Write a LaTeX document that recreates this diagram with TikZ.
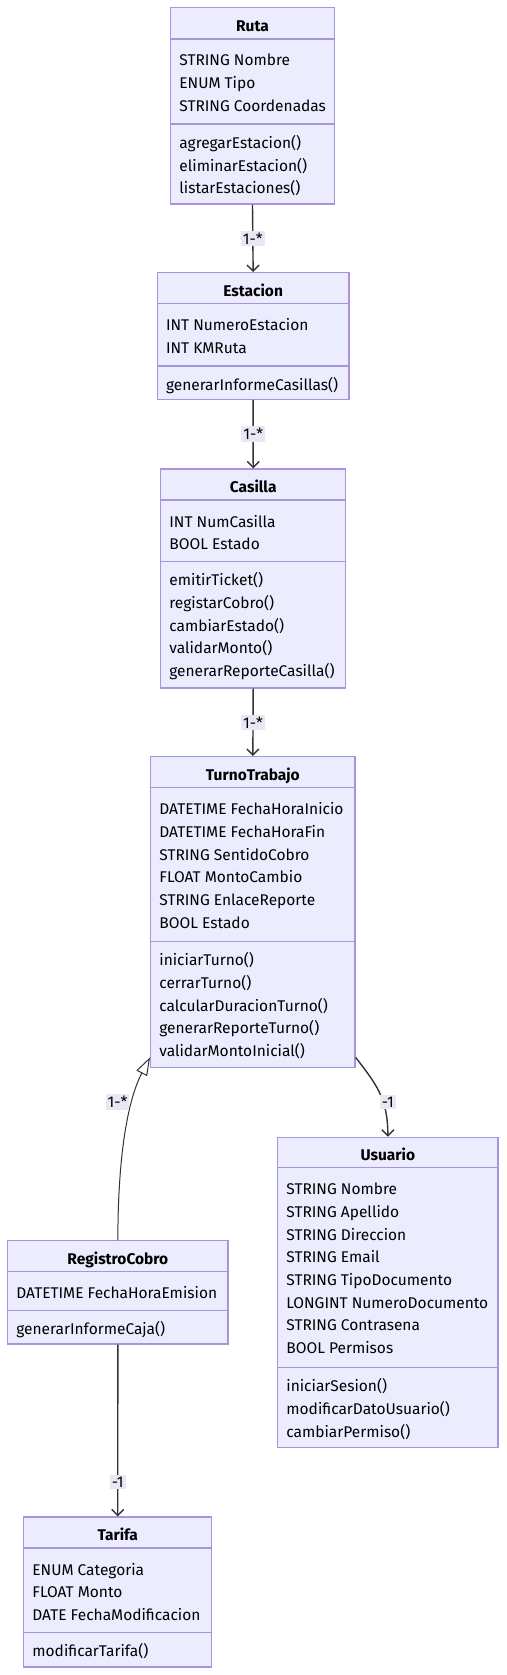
\documentclass[tikz,border=0pt]{standalone}
\usepackage{fontspec}
\setmainfont{Fira Sans}
\usetikzlibrary{arrows.meta}
\definecolor{clsfill}{HTML}{ECECFF}
\definecolor{clsdraw}{HTML}{A893DE}
\definecolor{edgecol}{HTML}{333333}
\definecolor{lblbg}{HTML}{E8E8F4}
\tikzset{
  classbox/.style={draw=clsdraw, fill=clsfill, line width=1.3pt, inner sep=0pt, rectangle},
  sepline/.style={draw=clsdraw, line width=1.3pt},
  ttl/.style={font=\fontsize{15.5}{18}\selectfont\bfseries, text=black, inner sep=0pt, anchor=base},
  mem/.style={font=\fontsize{15.5}{18}\selectfont, text=black, inner sep=0pt, anchor=base west},
  assoc/.style={draw=edgecol, line width=1.4pt, -{Straight Barb[length=6pt,width=12pt,line width=1.4pt]}},
  inh/.style={draw=edgecol, line width=1pt, -{Triangle[open, length=18pt, width=12pt, line width=1pt]}},
  lbl/.style={fill=lblbg, font=\fontsize{15.5}{18}\selectfont, inner sep=2pt, text=black},
}
% name, L, T, R, B, H, D, title
\newcommand{\umlbox}[8]{%
  \pgfmathsetmacro{\bw}{#4-#2}%
  \pgfmathsetmacro{\bh}{#5-#3}%
  \node[classbox, minimum width=\bw pt, minimum height=\bh pt] (#1) at ({(#2+#4)/2},{(#3+#5)/2}) {};
  \draw[sepline] (#2,#6) -- (#4,#6);
  \draw[sepline] (#2,#7) -- (#4,#7);
  \node[ttl] (#1-title) at ({(#2+#4)/2},{(#3+#6)/2+8}) {#8};
}
% name, L, first baseline, list
\newcommand{\umlmembers}[4]{%
  \foreach \t [count=\i from 0] in {#4} {
    \node[mem] (#1-\i) at ({#2+8.5},{#3+22.7*\i}) {\t};
  }
}
\begin{document}
\begin{tikzpicture}[x=1pt, y=-1pt]
\fill[white] (0,0) rectangle (506,1675);
\useasboundingbox (0,0) rectangle (506,1675);

% Ruta
\umlbox{ruta}{170.7}{7.3}{334.3}{204}{39}{124}{Ruta}
\umlmembers{ruta-a}{170.7}{66}{STRING Nombre, ENUM Tipo, STRING Coordenadas}
\umlmembers{ruta-m}{170.7}{148.3}{agregarEstacion(), eliminarEstacion(), listarEstaciones()}

% Estacion
\umlbox{estacion}{157.3}{272.7}{349}{399.3}{303.7}{366}{Estacion}
\umlmembers{estacion-a}{157.3}{330.7}{INT NumeroEstacion, INT KMRuta}
\umlmembers{estacion-m}{157.3}{390}{generarInformeCasillas()}

% Casilla
\umlbox{casilla}{160.7}{469}{345.7}{688}{500}{561.7}{Casilla}
\umlmembers{casilla-a}{160.7}{527}{INT NumCasilla, BOOL Estado}
\umlmembers{casilla-m}{160.7}{585.7}{emitirTicket(), registarCobro(), cambiarEstado(), validarMonto(), generarReporteCasilla()}

% TurnoTrabajo
\umlbox{turno}{150.7}{756.7}{355}{1067.7}{787.7}{941.7}{TurnoTrabajo}
\umlmembers{turno-a}{150.7}{814.7}{DATETIME FechaHoraInicio, DATETIME FechaHoraFin, STRING SentidoCobro, FLOAT MontoCambio, STRING EnlaceReporte, BOOL Estado}
\umlmembers{turno-m}{150.7}{965.7}{iniciarTurno(), cerrarTurno(), calcularDuracionTurno(), generarReporteTurno(), validarMontoInicial()}

% Usuario
\umlbox{usuario}{277.7}{1137.3}{498}{1447.7}{1167.7}{1367.7}{Usuario}
\umlmembers{usuario-a}{277.7}{1194.7}{STRING Nombre, STRING Apellido, STRING Direccion, STRING Email, STRING TipoDocumento, LONGINT NumeroDocumento, STRING Contrasena, BOOL Permisos}
\umlmembers{usuario-m}{277.7}{1391.7}{iniciarSesion(), modificarDatoUsuario(), cambiarPermiso()}

% RegistroCobro
\umlbox{registro}{7.7}{1240.7}{228}{1344}{1271.3}{1310.7}{RegistroCobro}
\umlmembers{registro-a}{7.7}{1298.3}{DATETIME FechaHoraEmision}
\umlmembers{registro-m}{7.7}{1334.7}{generarInformeCaja()}

% Tarifa
\umlbox{tarifa}{23.7}{1517}{211.7}{1667}{1548}{1632.7}{Tarifa}
\umlmembers{tarifa-a}{23.7}{1575}{ENUM Categoria, FLOAT Monto, DATE FechaModificacion}
\umlmembers{tarifa-m}{23.7}{1656.7}{modificarTarifa()}

% connectors
\draw[assoc] (ruta.south) -- node[lbl] (l1) {1-*} (estacion.north);
\draw[assoc] (estacion.south) -- node[lbl] (l2) {1-*} (casilla.north);
\draw[assoc] (casilla.south) -- node[lbl] (l3) {1-*} (turno.north);

\draw[inh] (registro.north) .. controls (118,1130) and (134,1088) .. ([yshift=11pt]turno.south west);
\node[lbl] (l4) at (117.5,1102) {1-*};

\draw[assoc] ([yshift=11pt]turno.south east) .. controls (376,1084) and (387.85,1098) .. (usuario.north);
\node[lbl] (l5) at (387.85,1102) {-1};

\draw[assoc] (registro.south) -- node[lbl, pos=0.8] (l6) {-1} (tarifa.north);
\end{tikzpicture}
\end{document}
